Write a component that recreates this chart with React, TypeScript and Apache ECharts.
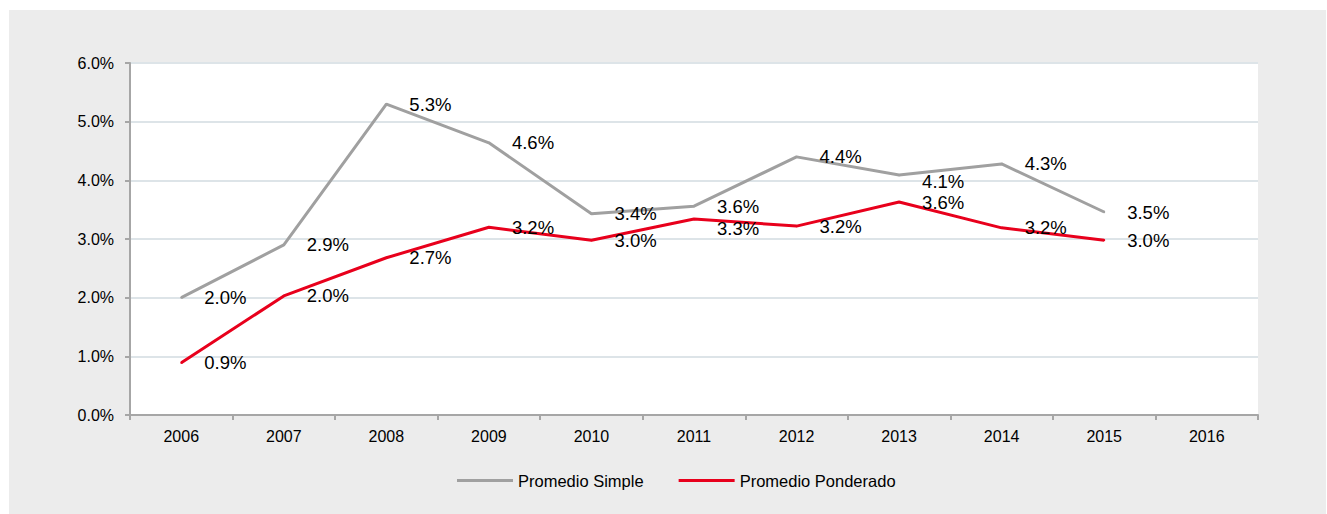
import React, { useEffect, useRef } from "react";
import * as echarts from "echarts";

const years = ["2006", "2007", "2008", "2009", "2010", "2011", "2012", "2013", "2014", "2015", "2016"];
const promedioSimple = [2.0, 2.9, 5.3, 4.64, 3.43, 3.56, 4.4, 4.09, 4.28, 3.46, null];
const promedioPonderado = [0.89, 2.03, 2.68, 3.2, 2.98, 3.34, 3.22, 3.63, 3.19, 2.98, null];
const seriesNames = ["Promedio Simple", "Promedio Ponderado"];

const FONT = 'Arial, "Liberation Sans", sans-serif';

// vertical nudges of individual data labels (index -> px)
const simpleLabelNudge: Record<number, number> = { 7: 6 };
const ponderadoLabelNudge: Record<number, number> = { 5: 9 };

export default function App() {
  const ref = useRef<HTMLDivElement>(null);
  useEffect(() => {
    if (!ref.current) return;
    const chart = echarts.init(ref.current, null, { renderer: "svg" });
    const fmt = (v: number) => v.toFixed(1) + "%";
    const labelCfg = {
      show: true,
      position: "right",
      distance: 22,
      fontSize: 18.5,
      color: "#000",
      fontFamily: FONT,
      formatter: (p: any) => (p.value == null ? "" : fmt(p.value)),
    };
    const withNudge = (vals: (number | null)[], nudge: Record<number, number>) =>
      vals.map((v, i) =>
        nudge[i] != null ? { value: v, label: { offset: [0, nudge[i]] } } : v
      );
    chart.setOption({
      animation: false,
      backgroundColor: "#ececec",
      textStyle: { fontFamily: FONT },
      grid: { left: 121, top: 53, width: 1128, height: 352, containLabel: false, show: true, backgroundColor: "#ffffff", borderWidth: 0 },
      legend: {
        left: 448,
        top: 462,
        padding: 0,
        icon: "rect",
        itemWidth: 56,
        itemHeight: 3,
        itemGap: 35,
        textStyle: { fontSize: 16.5, color: "#000", fontFamily: FONT },
        data: seriesNames,
      },
      xAxis: {
        type: "category",
        data: years,
        boundaryGap: true,
        axisLine: { lineStyle: { color: "#a6a6a6", width: 2 } },
        axisTick: { show: true, length: 5, lineStyle: { color: "#a6a6a6", width: 2 } },
        axisLabel: { fontSize: 16, color: "#000", margin: 13, fontFamily: FONT },
        splitLine: { show: false },
      },
      yAxis: {
        type: "value",
        min: 0,
        max: 6,
        interval: 1,
        axisLine: { show: true, lineStyle: { color: "#a6a6a6", width: 2 } },
        axisTick: { show: true, length: 5, lineStyle: { color: "#a6a6a6", width: 2 } },
        axisLabel: { fontSize: 16, color: "#000", margin: 16, fontFamily: FONT, formatter: (v: number) => fmt(v) },
        splitLine: { show: true, lineStyle: { color: "#dde4e8", width: 2 } },
      },
      series: [
        {
          name: seriesNames[0],
          type: "line",
          data: withNudge(promedioSimple, simpleLabelNudge),
          showSymbol: true,
          symbol: "circle",
          symbolSize: 2,
          color: "#a0a0a0",
          itemStyle: { color: "#a0a0a0" },
          lineStyle: { color: "#a0a0a0", width: 3 },
          label: labelCfg,
        },
        {
          name: seriesNames[1],
          type: "line",
          data: withNudge(promedioPonderado, ponderadoLabelNudge),
          showSymbol: true,
          symbol: "circle",
          symbolSize: 2,
          color: "#e8001c",
          itemStyle: { color: "#e8001c" },
          lineStyle: { color: "#e8001c", width: 3 },
          label: labelCfg,
        },
      ],
    });
    return () => chart.dispose();
  }, []);
  return (
    <div
      ref={ref}
      style={{ position: "absolute", left: 9, top: 10, width: 1317, height: 504 }}
    />
  );
}
